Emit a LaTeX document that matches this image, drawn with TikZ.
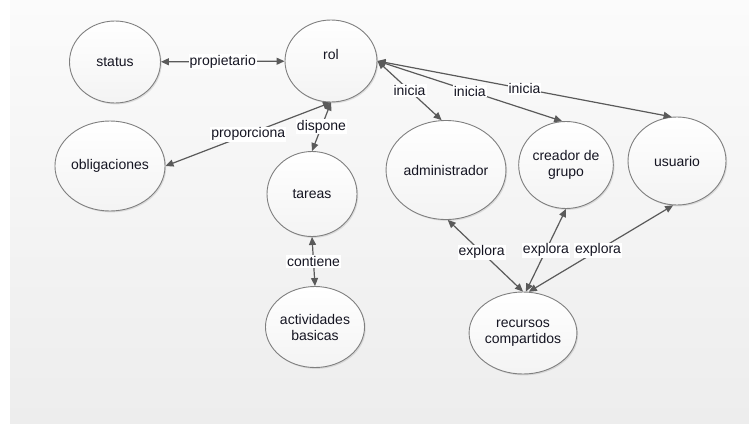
\documentclass[tikz,border=0pt]{standalone}
\usepackage{fontspec}
\setmainfont{Liberation Sans}
\usetikzlibrary{shapes.geometric,arrows.meta,shadows}
\definecolor{edgec}{HTML}{5A5A5A}
\definecolor{ringc}{HTML}{7F7F7F}
\definecolor{bgtop}{HTML}{FBFBFB}
\definecolor{bgbot}{HTML}{EDEDED}
\definecolor{txtc}{HTML}{151522}
\tikzset{
  circ/.style={ellipse, draw=ringc, line width=0.9pt, inner sep=0pt,
    top color=white, bottom color=gray!9, text=txtc,
    font=\fontsize{14}{16}\selectfont, align=center,
    drop shadow={shadow xshift=1.2pt, shadow yshift=-1.4pt, opacity=0.22, fill=gray}},
  edge/.style={draw=edgec, line width=1.2pt,
    {Triangle[length=8pt,width=7pt]}-{Triangle[length=8pt,width=7pt]}},
  lbl/.style={fill=white, inner sep=1pt, text=txtc, font=\fontsize{14}{16}\selectfont}
}
\begin{document}
\begin{tikzpicture}[x=1pt,y=-1pt]
\useasboundingbox (0,0) rectangle (749,423);
\shade[top color=bgtop, bottom color=bgbot] (10,0) rectangle (749,423);

\node[circ, minimum width=91pt, minimum height=82pt] (status) at (115,62) {status};
\node[circ, minimum width=92pt, minimum height=82pt] (rol) at (331,61) {};
\node[text=txtc, font=\fontsize{14}{16}\selectfont] (roltext) at (331,54) {rol};
\node[circ, minimum width=98pt, minimum height=90pt] (obl) at (110,166) {obligaciones};
\node[circ, minimum width=90pt, minimum height=85pt] (tareas) at (312,194) {tareas};
\node[circ, minimum width=104pt, minimum height=99pt] (admin) at (446,170) {administrador};
\node[circ, minimum width=94pt, minimum height=87pt] (creador) at (566,165) {creador de\\grupo};
\node[circ, minimum width=98pt, minimum height=88pt] (usuario) at (677,161) {usuario};
\node[circ, minimum width=90pt, minimum height=81pt] (activ) at (315,327) {actividades\\basicas};
\node[circ, minimum width=92pt, minimum height=82pt] (recursos) at (523,333) {recursos\\compartidos};

\draw[edge] (status) -- node[lbl] {propietario} (rol);
\draw[edge] (obl.east) -- node[lbl] {proporciona} (rol.south);
\draw[edge] (rol.south) -- node[lbl] {dispone} (tareas.north);
\draw[edge] (rol.east) -- node[lbl] {inicia} (admin.95);
\draw[edge] (rol.east) -- node[lbl] {inicia} (creador.95);
\draw[edge] (rol.east) -- node[lbl] {inicia} (usuario.97);
\draw[edge] (tareas.south) -- node[lbl] {contiene} (activ.north);
\draw[edge] (admin.-88) -- node[lbl, pos=0.45] {explora} (recursos.north);
\draw[edge] (creador.south) -- node[lbl] {explora} (recursos.86);
\draw[edge] (usuario.-95) -- node[lbl, pos=0.52] {explora} (recursos.82);
\end{tikzpicture}
\end{document}
